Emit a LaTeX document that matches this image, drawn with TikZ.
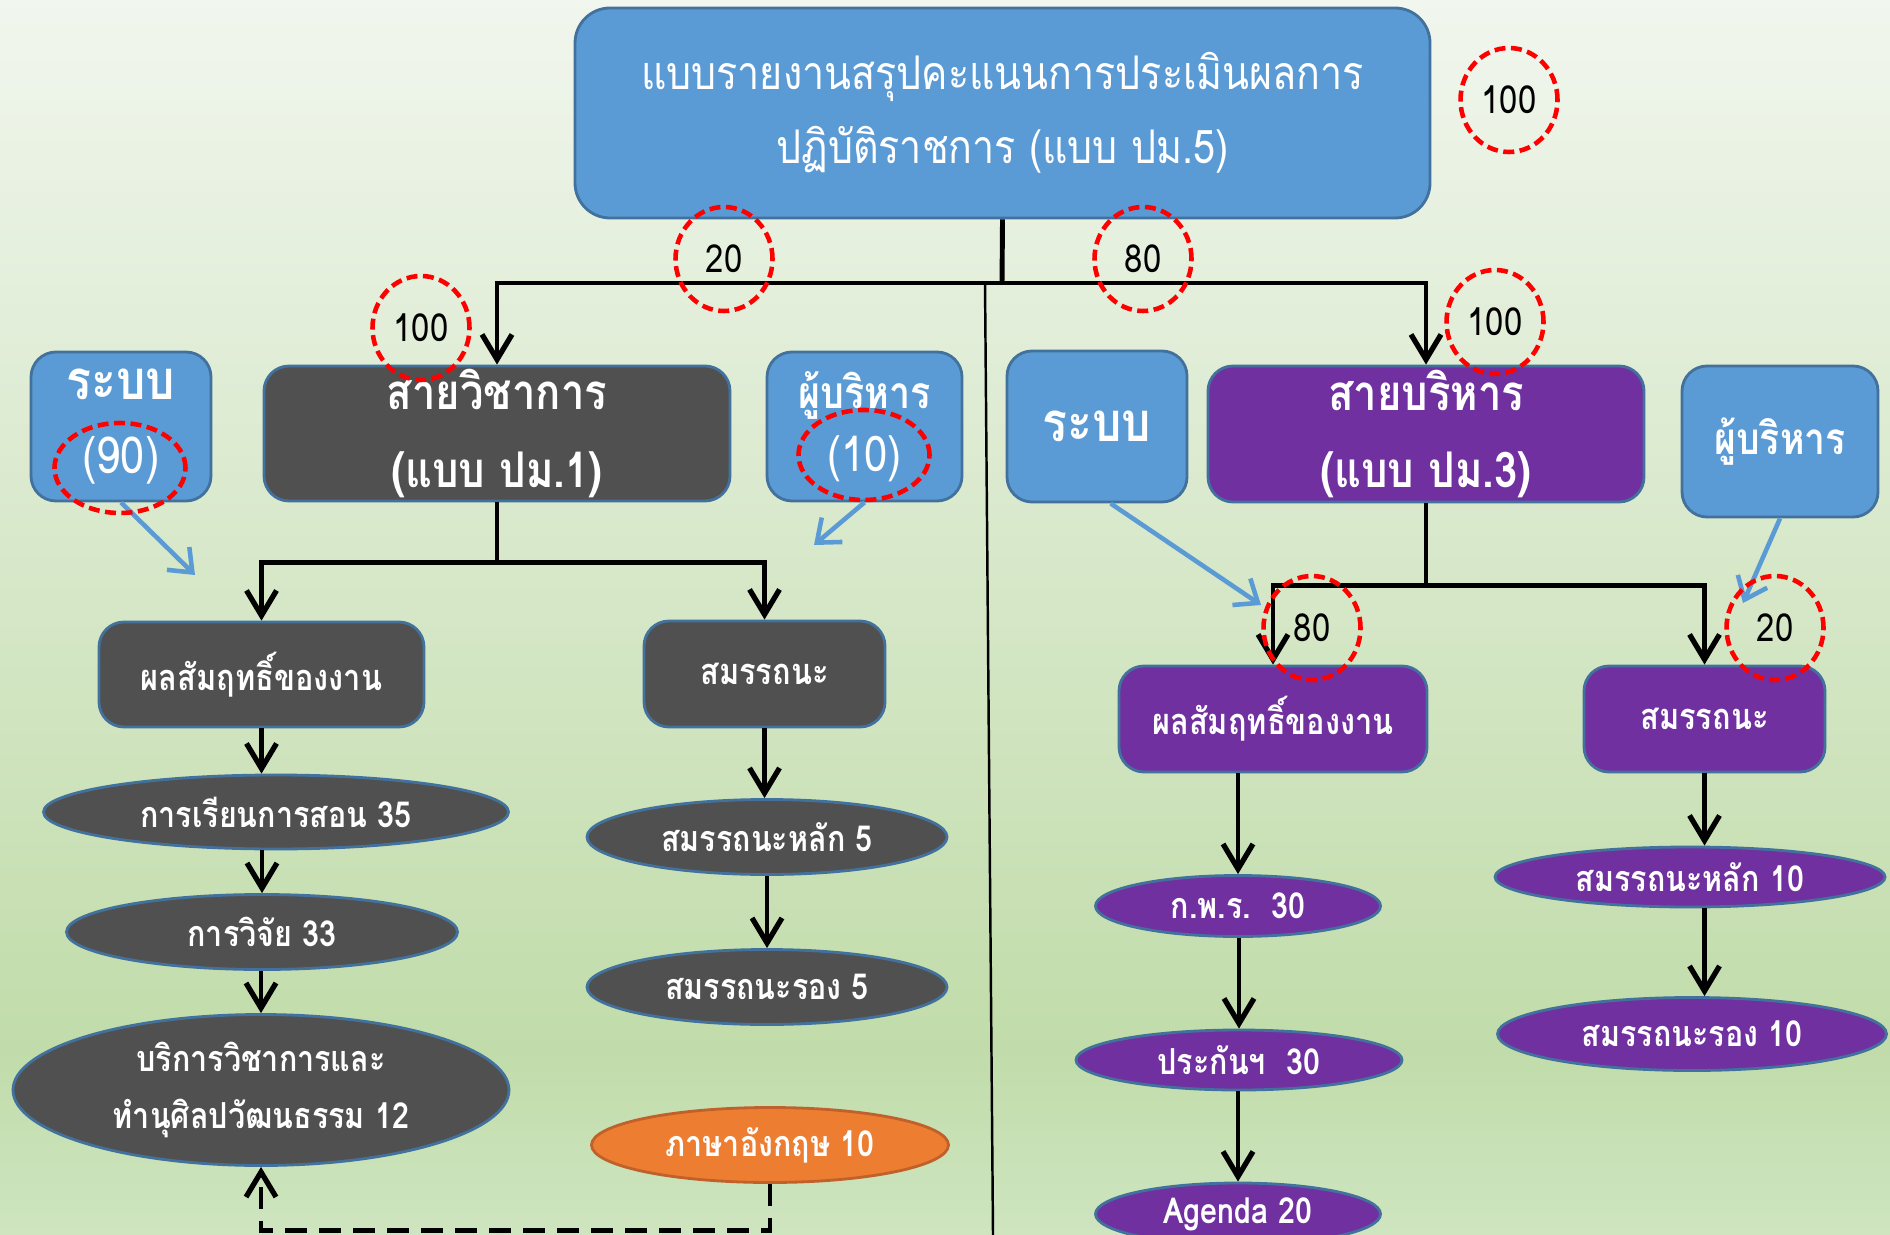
\documentclass[tikz,border=0pt]{standalone}
\usepackage{fontspec}
\setmainfont[Script=Thai, FakeStretch=0.85]{Loma}
\usetikzlibrary{arrows.meta, shapes.geometric}

\definecolor{boxblue}{HTML}{5B9BD5}
\definecolor{edgeblue}{HTML}{41719C}
\definecolor{boxgray}{HTML}{505050}
\definecolor{boxpurple}{HTML}{7030A0}
\definecolor{boxorange}{HTML}{ED7D31}
\definecolor{edgeorange}{HTML}{C0602A}
\definecolor{bgtop}{RGB}{241,246,238}
\definecolor{bgmid}{RGB}{193,220,170}
\definecolor{bgbot}{RGB}{206,229,192}
\pgfdeclareverticalshading{backdrop}{100bp}{color(0bp)=(bgbot); color(25bp)=(bgbot); color(32.5bp)=(bgmid); color(75bp)=(bgtop); color(100bp)=(bgtop)}

\begin{document}
\begin{tikzpicture}[
  x=0.1mm, y=-0.1mm,
  box/.style={draw=edgeblue, line width=0.8pt, rounded corners=2.5mm, text=white, align=center, inner sep=0pt},
  oval/.style={draw=edgeblue, line width=0.8pt, ellipse, text=white, align=center, inner sep=0pt,
    font=\bfseries\fontsize{10.2}{16}\selectfont},
  score/.style={draw=red, line width=1.3pt, dash pattern=on 1.1mm off 0.55mm, ellipse, inner sep=0pt,
    minimum width=9.7mm, minimum height=10.4mm, font=\fontsize{11}{12}\selectfont},
  flow/.style={line width=1.4pt, -{Straight Barb[length=2.5mm, width=3mm, line width=1.5pt]}},
  hint/.style={draw=boxblue, line width=1.3pt, -{Straight Barb[length=2mm, width=3.2mm, line width=1.3pt]}},
]
  \useasboundingbox (0,0) rectangle (1890,1235);
  \shade[shading=backdrop] (0,0) rectangle (1890,1235);

  % top level
  \node[box, fill=boxblue, minimum width=85.5mm, minimum height=21mm, rounded corners=3.5mm,
    font=\fontsize{13.2}{21}\selectfont] (report) at (1002.5,113)
    {แบบรายงานสรุปคะแนนการประเมินผลการ\\ปฏิบัติราชการ (แบบ ปม.5)};

  % second level
  \node[box, fill=boxgray, minimum width=46.6mm, minimum height=13.5mm,
    font=\bfseries\fontsize{14}{22}\selectfont] (acad) at (497,433.5) {สายวิชาการ\\(แบบ ปม.1)};
  \node[box, fill=boxpurple, minimum width=43.6mm, minimum height=13.6mm,
    font=\bfseries\fontsize{14}{22}\selectfont] (admin) at (1426,434) {สายบริหาร\\(แบบ ปม.3)};
  \node[box, fill=boxblue, minimum width=18mm, minimum height=14.9mm,
    font=\fontsize{14.5}{21}\selectfont] (sysA) at (121,426.5) {{\bfseries\fontsize{15.5}{21}\selectfont ระบบ}\\(90)};
  \node[box, fill=boxblue, minimum width=19.5mm, minimum height=14.9mm,
    font=\fontsize{14}{18}\selectfont] (bossA) at (864.5,426.5) {{\bfseries\fontsize{12.6}{18}\selectfont ผู้บริหาร}\\(10)};
  \node[box, fill=boxblue, minimum width=18mm, minimum height=15.1mm,
    font=\bfseries\fontsize{15.5}{18}\selectfont] (sysB) at (1097,426.5) {ระบบ};
  \node[box, fill=boxblue, minimum width=19.6mm, minimum height=15.1mm,
    font=\bfseries\fontsize{12.5}{18}\selectfont] (bossB) at (1780,441.5) {ผู้บริหาร};

  % third level
  \node[box, fill=boxgray, minimum width=32.5mm, minimum height=10.5mm,
    font=\bfseries\fontsize{10.3}{14}\selectfont] (resA) at (261.5,674.5) {ผลสัมฤทธิ์ของงาน};
  \node[box, fill=boxgray, minimum width=24.1mm, minimum height=10.6mm,
    font=\bfseries\fontsize{10.3}{14}\selectfont] (compA) at (764.5,674) {สมรรถนะ};
  \node[box, fill=boxpurple, minimum width=30.8mm, minimum height=10.6mm,
    font=\bfseries\fontsize{10.3}{14}\selectfont] (resB) at (1273,719) {ผลสัมฤทธิ์ของงาน};
  \node[box, fill=boxpurple, minimum width=24.1mm, minimum height=10.6mm,
    font=\bfseries\fontsize{10.3}{14}\selectfont] (compB) at (1704.5,719) {สมรรถนะ};

  % indicators
  \node[oval, fill=boxgray, minimum width=46.5mm, minimum height=7.4mm] (teach) at (276,812) {การเรียนการสอน 35};
  \node[oval, fill=boxgray, minimum width=39.1mm, minimum height=7.5mm] (research) at (262,932) {การวิจัย 33};
  \node[oval, fill=boxgray, minimum width=49.6mm, minimum height=15.1mm] (service) at (261,1090)
    {บริการวิชาการและ\\ทำนุศิลปวัฒนธรรม 12};
  \node[oval, fill=boxgray, minimum width=36mm, minimum height=7.5mm] (coreA) at (767,837) {สมรรถนะหลัก 5};
  \node[oval, fill=boxgray, minimum width=36mm, minimum height=7.5mm] (subA) at (767,987) {สมรรถนะรอง 5};
  \node[oval, fill=boxorange, draw=edgeorange, minimum width=35.7mm, minimum height=7.5mm] (english) at (770,1145)
    {ภาษาอังกฤษ 10};
  \node[oval, fill=boxpurple, minimum width=28.5mm, minimum height=6.1mm] (opdc) at (1238,906) {ก.พ.ร.~~30};
  \node[oval, fill=boxpurple, minimum width=32.6mm, minimum height=6mm] (qa) at (1239,1060) {ประกันฯ~~30};
  \node[oval, fill=boxpurple, minimum width=28.5mm, minimum height=6.2mm] (agenda) at (1238,1214) {Agenda 20};
  \node[oval, fill=boxpurple, minimum width=39mm, minimum height=6mm] (coreB) at (1690,877) {สมรรถนะหลัก 10};
  \node[oval, fill=boxpurple, minimum width=38.9mm, minimum height=7.3mm] (subB) at (1692,1034) {สมรรถนะรอง 10};

  % connectors
  \draw[line width=1.4pt] (report.south) -- (1002,283) coordinate (split);
  \draw[flow] (split) -| (acad.north);
  \draw[flow] (split) -| (admin.north);
  \coordinate (divTop) at (985,283);
  \coordinate (divBot) at (993,1235);
  \draw[line width=0.7pt] (divTop) -- (divBot);

  \draw[line width=1.4pt] (acad.south) -- ++(0,60) coordinate (splitA);
  \draw[flow] (splitA) -| (resA.north);
  \draw[flow] (splitA) -| (compA.north);
  \draw[line width=1.4pt] (admin.south) -- ++(0,82) coordinate (splitB);
  \draw[flow] (splitB) -| (resB.north);
  \draw[flow] (splitB) -| (compB.north);

  \foreach \from/\to in {resA/teach, compA/coreA, compB/coreB}
    \draw[flow] (\from.south) -- (\from.south |- \to.north);
  \foreach \from/\to in {teach/research, research/service, coreA/subA,
    resB/opdc, opdc/qa, qa/agenda}
    \draw[flow] (\from.south -| \to.north) -- (\to.north);
  \draw[flow] (compB.south |- coreB.south) -- (compB.south |- subB.north);

  \draw[flow, dash pattern=on 2.2mm off 1.2mm] (english.south) -- ++(0,47) -| (service.south);

  % weight hints
  \coordinate (sysAtip) at (195,575);
  \coordinate (bossAtip) at (814,545);
  \coordinate (sysBtip) at (1261,605);
  \coordinate (bossBtip) at (1743,603);
  \draw[hint] (sysA.south) -- (sysAtip);
  \draw[hint] (bossA.south) -- (bossAtip);
  \draw[hint] (sysB.-80) -- (sysBtip);
  \draw[hint] (bossB.south) -- (bossBtip);

  % scores
  \foreach \name/\cx/\cy/\val in {wTop/1509/100/100, wAcad/724/259/20, wAdmin/1143/259/80,
    wAcadAll/421/328/100, wAdminAll/1495/322/100, wRes/1312/628/80, wComp/1775/628/20}
    \node[score] (\name) at (\cx,\cy) {\val};
  \node[score, minimum width=13.1mm, minimum height=9mm] (wSysA) at (120,468) {};
  \node[score, minimum width=13.1mm, minimum height=9mm] (wBossA) at (864,455) {};
\end{tikzpicture}
\end{document}
